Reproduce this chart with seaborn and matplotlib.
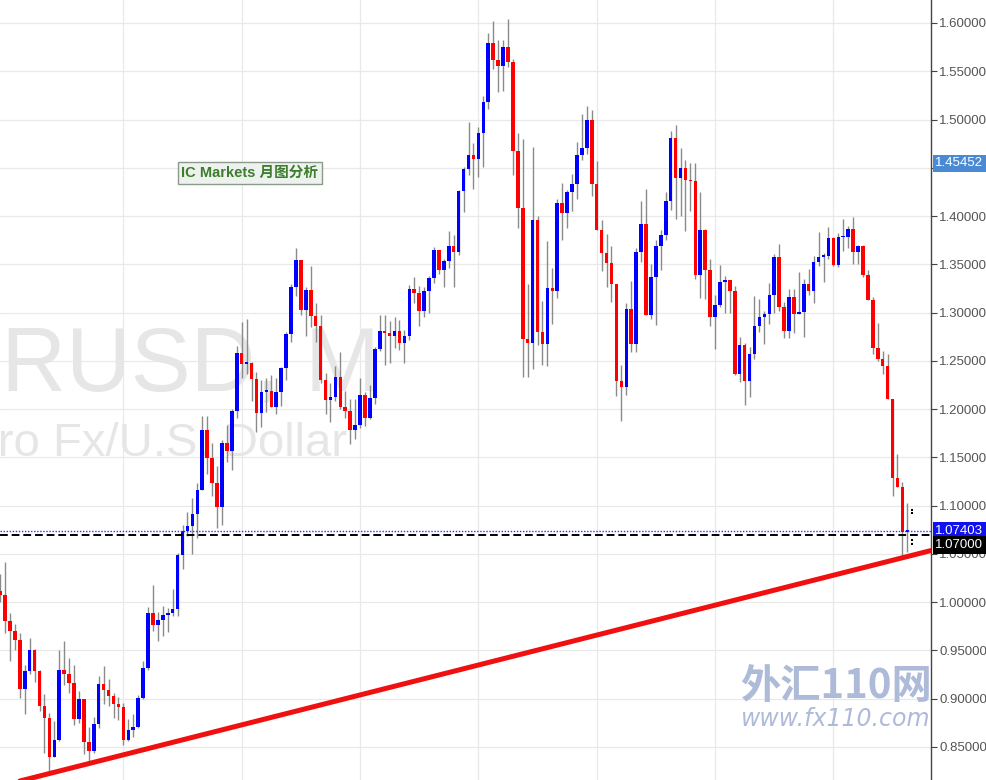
import matplotlib
matplotlib.use('Agg')
import matplotlib.pyplot as plt
import numpy as np
import pandas as pd
import seaborn as sns
from matplotlib.ticker import FormatStrFormatter

# EUR/USD monthly candles, Dec 1999 .. Apr 2015 (open = previous close)
start_month = '1999-12'
first_open = 1.0120
close = [1.0070,
         0.9800, 0.9700, 0.9610, 0.9100, 0.9290, 0.9500, 0.9290, 0.8920, 0.8800, 0.8400, 0.8570, 0.9300,
         0.9260, 0.9160, 0.8790, 0.9000, 0.8550, 0.8460, 0.8740, 0.9150, 0.9090, 0.9030, 0.8950, 0.8910,
         0.8570, 0.8680, 0.8710, 0.9010, 0.9320, 0.9890, 0.9760, 0.9820, 0.9870, 0.9890, 0.9930, 1.0490,
         1.0740, 1.0790, 1.0910, 1.1160, 1.1780, 1.1490, 1.1230, 1.0990, 1.1650, 1.1570, 1.1980, 1.2580,
         1.2470, 1.2480, 1.2310, 1.1960, 1.2180, 1.2190, 1.2020, 1.2180, 1.2430, 1.2780, 1.3270, 1.3540,
         1.3030, 1.3230, 1.2960, 1.2860, 1.2300, 1.2090, 1.2130, 1.2330, 1.2020, 1.1980, 1.1780, 1.1840,
         1.2150, 1.1910, 1.2120, 1.2620, 1.2810, 1.2790, 1.2760, 1.2810, 1.2680, 1.2760, 1.3240, 1.3200,
         1.3020, 1.3220, 1.3360, 1.3650, 1.3440, 1.3530, 1.3690, 1.3630, 1.4260, 1.4490, 1.4630, 1.4590,
         1.4860, 1.5180, 1.5790, 1.5620, 1.5550, 1.5750, 1.5600, 1.4670, 1.4080, 1.2730, 1.2690, 1.3960,
         1.2800, 1.2670, 1.3250, 1.3220, 1.4130, 1.4030, 1.4250, 1.4330, 1.4630, 1.4710, 1.5000, 1.4330,
         1.3860, 1.3620, 1.3510, 1.3300, 1.2290, 1.2230, 1.3040, 1.2670, 1.3630, 1.3920, 1.2980, 1.3370,
         1.3690, 1.3800, 1.4160, 1.4810, 1.4390, 1.4500, 1.4370, 1.4360, 1.3390, 1.3860, 1.3440, 1.2950,
         1.3080, 1.3320, 1.3340, 1.3220, 1.2360, 1.2660, 1.2290, 1.2570, 1.2860, 1.2950, 1.2990, 1.3180,
         1.3580, 1.3060, 1.2810, 1.3160, 1.2990, 1.3010, 1.3300, 1.3220, 1.3520, 1.3580, 1.3590, 1.3770,
         1.3490, 1.3780, 1.3785, 1.3870, 1.3630, 1.3690, 1.3390, 1.3130, 1.2630, 1.2520, 1.2450, 1.2100,
         1.1290, 1.1190, 1.0730, 1.07403]
high = [1.0290,
        1.0414, 0.9890, 0.9770, 0.9680, 0.9350, 0.9630, 0.9520, 0.9300, 0.9050, 0.8850, 0.8770, 0.9500,
        0.9595, 0.9420, 0.9350, 0.9080, 0.8950, 0.8710, 0.8810, 0.9240, 0.9340, 0.9200, 0.9060, 0.9020,
        0.8960, 0.8790, 0.8840, 0.9040, 0.9390, 0.9950, 1.0180, 0.9900, 0.9960, 0.9940, 1.0140, 1.0510,
        1.0800, 1.0930, 1.1080, 1.1230, 1.1930, 1.1930, 1.1650, 1.1410, 1.1680, 1.1840, 1.2000, 1.2650,
        1.2900, 1.2930, 1.2490, 1.2380, 1.2300, 1.2320, 1.2350, 1.2320, 1.2440, 1.2800, 1.3300, 1.3670,
        1.3540, 1.3270, 1.3480, 1.3100, 1.2970, 1.2370, 1.2270, 1.2450, 1.2590, 1.2190, 1.2100, 1.2100,
        1.2320, 1.2180, 1.2250, 1.2640, 1.2980, 1.2980, 1.2910, 1.2950, 1.2920, 1.2820, 1.3290, 1.3370,
        1.3280, 1.3270, 1.3380, 1.3680, 1.3600, 1.3560, 1.3850, 1.3800, 1.4270, 1.4510, 1.4970, 1.4760,
        1.4920, 1.5240, 1.5900, 1.6020, 1.5820, 1.5820, 1.6038, 1.5630, 1.4860, 1.4800, 1.3300, 1.4720,
        1.4000, 1.3120, 1.3740, 1.3460, 1.4180, 1.4340, 1.4270, 1.4440, 1.4770, 1.5060, 1.5140, 1.5100,
        1.4570, 1.3960, 1.3810, 1.3690, 1.3300, 1.2460, 1.3100, 1.3330, 1.3670, 1.4160, 1.4280, 1.3500,
        1.3750, 1.3860, 1.4250, 1.4880, 1.4940, 1.4700, 1.4580, 1.4550, 1.4550, 1.4250, 1.3870, 1.3550,
        1.3180, 1.3490, 1.3380, 1.3280, 1.3280, 1.2750, 1.2690, 1.2640, 1.3170, 1.3140, 1.3020, 1.3310,
        1.3610, 1.3710, 1.3110, 1.3240, 1.3240, 1.3420, 1.3350, 1.3450, 1.3590, 1.3830, 1.3620, 1.3890,
        1.3780, 1.3820, 1.3970, 1.3900, 1.3990, 1.3700, 1.3700, 1.3440, 1.3160, 1.2890, 1.2600, 1.2570,
        1.2100, 1.1530, 1.1240, 1.1030]
low = [1.0000,
       0.9680, 0.9390, 0.9500, 0.9010, 0.8845, 0.9260, 0.9170, 0.8870, 0.8440, 0.8250, 0.8400, 0.8560,
       0.9140, 0.9060, 0.8730, 0.8750, 0.8430, 0.8350, 0.8440, 0.8700, 0.8950, 0.8920, 0.8800, 0.8780,
       0.8520, 0.8565, 0.8600, 0.8700, 0.9000, 0.9300, 0.9700, 0.9600, 0.9650, 0.9690, 0.9860, 0.9860,
       1.0340, 1.0690, 1.0500, 1.0660, 1.1160, 1.1330, 1.1100, 1.0770, 1.0800, 1.1450, 1.1370, 1.1910,
       1.2320, 1.2360, 1.2080, 1.1760, 1.1810, 1.1970, 1.2020, 1.1950, 1.2030, 1.2300, 1.2700, 1.3170,
       1.2980, 1.2760, 1.2850, 1.2700, 1.2270, 1.1950, 1.1870, 1.2080, 1.2000, 1.1910, 1.1640, 1.1690,
       1.1800, 1.1830, 1.1900, 1.2050, 1.2600, 1.2460, 1.2480, 1.2630, 1.2610, 1.2480, 1.2720, 1.3100,
       1.2860, 1.2950, 1.3000, 1.3310, 1.3400, 1.3270, 1.3460, 1.3260, 1.3600, 1.4040, 1.4430, 1.4280,
       1.4400, 1.4510, 1.5110, 1.5520, 1.5280, 1.5300, 1.5540, 1.4430, 1.3880, 1.2330, 1.2330, 1.2420,
       1.2660, 1.2460, 1.2450, 1.2880, 1.3150, 1.3750, 1.3880, 1.4050, 1.4180, 1.4580, 1.4640, 1.4210,
       1.3860, 1.3430, 1.3270, 1.3110, 1.2140, 1.1880, 1.2150, 1.2590, 1.2590, 1.3520, 1.2970, 1.2930,
       1.2870, 1.3440, 1.3750, 1.4060, 1.3970, 1.4000, 1.3840, 1.4050, 1.3350, 1.3150, 1.3140, 1.2860,
       1.2620, 1.3060, 1.3000, 1.3000, 1.2350, 1.2280, 1.2040, 1.2130, 1.2520, 1.2800, 1.2670, 1.2880,
       1.3000, 1.3020, 1.2740, 1.2740, 1.2790, 1.3000, 1.2750, 1.3180, 1.3100, 1.3480, 1.3320, 1.3550,
       1.3480, 1.3470, 1.3640, 1.3670, 1.3500, 1.3500, 1.3370, 1.3150, 1.2570, 1.2500, 1.2360, 1.2100,
       1.1100, 1.1260, 1.0460, 1.0520]

# support line through the Oct 2000 and Mar 2015 lows
trend_months = ['2000-10', '2015-03']
trend_prices = [0.8225, 1.0460]

price_ticks = [0.85, 0.90, 0.95, 1.00, 1.05, 1.10, 1.15, 1.20, 1.25,
               1.30, 1.35, 1.40, 1.45, 1.50, 1.55, 1.60]
last_price = 1.07403
level_price = 1.07000
marker_price = 1.45452
# small order marks beside the current candle
order_marks = [1.0955, 1.0925, 1.0640, 1.0600]

months = pd.period_range(start_month, periods=len(close), freq='M')
df = pd.DataFrame({'month': months, 'close': close, 'high': high, 'low': low})
df['idx'] = np.arange(len(df))
df['open'] = [first_open] + close[:-1]
df['high'] = df[['high', 'open', 'close']].max(axis=1)
df['low'] = df[['low', 'open', 'close']].min(axis=1)
df['up'] = df['close'] >= df['open']

sns.set_theme(style='white')
plt.rcParams['font.family'] = ['Liberation Sans', 'Noto Sans CJK SC', 'DejaVu Sans']

fig = plt.figure(figsize=(9.87, 7.80), dpi=100)
ax = fig.add_axes([0, 0, 931 / 987, 1])
ax.set_xlim(-0.02, 188.8)
ax.set_ylim(0.8158, 1.6238)

# grid: every 0.05 and every second January
for p in price_ticks:
    ax.axhline(p, color='#e9e9e9', lw=0.9, zorder=0)
jan = df[(df['month'].dt.month == 1) & (df['month'].dt.year % 2 == 0) & (df['month'].dt.year > 2000)]
for x in jan['idx']:
    ax.axvline(x, color='#e9e9e9', lw=0.9, zorder=0)

# faint symbol watermark
ax.text(380 / 931, 1 - 367 / 780, 'EURUSD, M', transform=ax.transAxes, ha='right', va='center',
        fontsize=64.5, color='#e6e6e6', zorder=0.5)
ax.text(347 / 931, 1 - 444 / 780, 'Euro Fx/U.S. Dollar', transform=ax.transAxes, ha='right',
        va='center', fontsize=34, color='#e6e6e6', zorder=0.5)

# candles
ax.vlines(df['idx'], df['low'], df['high'], color='#8a8a8a', lw=1, zorder=2)
body = (df['close'] - df['open']).abs().clip(lower=0.0016)
bottom = df[['open', 'close']].min(axis=1)
colors = np.where(df['up'], '#0000ff', '#ff0000')
ax.bar(df['idx'], body, bottom=bottom, width=0.72, color=colors, linewidth=0, zorder=3)

# support line
t_idx = [df.loc[df['month'] == pd.Period(m, 'M'), 'idx'].iloc[0] for m in trend_months]
slope = (trend_prices[1] - trend_prices[0]) / (t_idx[1] - t_idx[0])
line_x = np.array([-2, 192])
line_y = trend_prices[0] + slope * (line_x - t_idx[0])
sns.lineplot(x=line_x, y=line_y, color='#f01010', linewidth=3.6, ax=ax, zorder=4)

# price levels
ax.axhline(last_price, color='#3030ff', lw=1, ls=(0, (1, 1.2)), zorder=5)
ax.axhline(level_price, color='black', lw=1.4, ls=(0, (4, 2)), zorder=5)
ax.scatter([df['idx'].iloc[-1] + 0.9] * len(order_marks), order_marks, marker='s', s=3,
           color='black', zorder=6, linewidths=0)

# right price axis
ax.yaxis.tick_right()
ax.set_yticks(price_ticks)
ax.yaxis.set_major_formatter(FormatStrFormatter('%.5f'))
ax.set_xticks([])
ax.tick_params(axis='y', length=4, width=0.8, color='#444444', labelcolor='#555555',
               labelsize=9.5, pad=2, right=True, left=False)
for s in ['left', 'top', 'bottom']:
    ax.spines[s].set_visible(False)
ax.spines['right'].set_color('#444444')
ax.spines['right'].set_linewidth(1)

for price, fc, dy in [(marker_price, '#4a8ad4', 0), (last_price, '#1010f0', 0), (level_price, 'black', -7.5)]:
    ax.annotate(f'{price:.5f}', xy=(1, price), xycoords=('axes fraction', 'data'),
                xytext=(3, dy), textcoords='offset points', ha='left', va='center',
                fontsize=9.5, color='white', annotation_clip=False, zorder=10,
                bbox=dict(boxstyle='square,pad=0.2', fc=fc, ec='none'))

# chart note
ax.text(250 / 931, 1 - 173 / 780, 'IC Markets 月图分析', transform=ax.transAxes, ha='center',
        va='center', fontsize=10.5, fontweight='bold', color='#3d7d2c', zorder=6,
        bbox=dict(boxstyle='square,pad=0.25', fc='#eef2ee', ec='#8a9a8a', lw=1))

# site watermark
ax.text(836 / 931, 1 - 687 / 780, '外汇110网', transform=ax.transAxes, ha='center', va='center',
        fontsize=29, fontweight='bold', color='#aebbd8', zorder=6,
        family=['Noto Sans CJK SC', 'DejaVu Sans'])
ax.text(836 / 931, 1 - 719 / 780, 'www.fx110.com', transform=ax.transAxes, ha='center',
        va='center', fontsize=17, style='italic', color='#aebbd8', zorder=6,
        family=['DejaVu Sans'])

fig.savefig('out.png', dpi=100)
